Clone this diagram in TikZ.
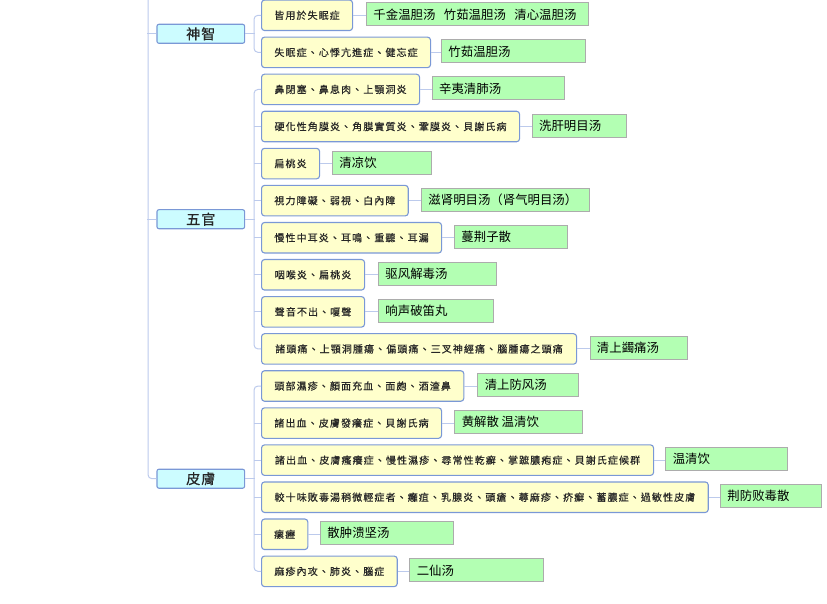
\documentclass[tikz,border=0pt]{standalone}
\usepackage{fontspec}
\newfontfamily\tcfont{Noto Sans CJK TC}[LetterSpace=11,FakeBold=0.4]
\newfontfamily\catfam{Noto Sans CJK TC}[LetterSpace=6,FakeBold=0.3]
\newfontfamily\scfont{Noto Sans CJK SC}
\definecolor{ylw}{RGB}{255,255,204}
\definecolor{cyn}{RGB}{204,252,255}
\definecolor{bdr}{RGB}{122,152,214}
\definecolor{grn}{RGB}{179,255,179}
\definecolor{gbdr}{RGB}{172,172,172}
\definecolor{lnc}{RGB}{188,202,236}
\tikzset{
  sym/.style={draw=bdr, fill=ylw, rounded corners=3pt, line width=1.1pt,
    minimum height=30.5pt, inner sep=0pt, anchor=west,
    font=\tcfont\fontsize{10}{12}\selectfont, text=black!85},
  rx/.style={draw=gbdr, fill=grn, line width=0.9pt, minimum height=23pt,
    inner sep=0pt, anchor=west, font=\scfont\fontsize{12.4}{14}\selectfont},
  cat/.style={draw=bdr, fill=cyn, rounded corners=2pt, line width=1.1pt,
    minimum width=87.7pt, minimum height=19pt, inner sep=0pt,
    font=\catfam\fontsize{14.2}{16}\selectfont, text=black!85},
  conn/.style={draw=lnc, line width=1pt},
  tree/.style={draw=lnc, line width=1pt, rounded corners=4pt}
}
\newcommand{\Ysym}[4]{\node[sym, minimum width=#3pt] (#1) at (261,{15.3+37.07*#2}) {#4};}
\newcommand{\Grx}[5]{\node[rx] (#1) at (#3,{14.3+37.07*#2}) {\makebox[#4pt][l]{\hspace{7pt}#5}};}
\begin{document}
\begin{tikzpicture}[x=1pt,y=-1pt]
\useasboundingbox (0,0) rectangle (827,604);
% categories
\node[cat] (shen) at (200.8,33.8) {神智};
\node[cat] (wu) at (200.8,219.2) {五官};
\node[cat] (pi) at (200.8,478.7) {皮膚};
% symptoms
\Ysym{s0}{0}{91}{皆用於失眠症}
\Ysym{s1}{1}{169}{失眠症、心悸亢進症、健忘症}
\Ysym{s2}{2}{158}{鼻閉塞、鼻息肉、上顎洞炎}
\Ysym{s3}{3}{258}{硬化性角膜炎、角膜實質炎、鞏膜炎、貝謝氏病}
\Ysym{s4}{4}{58}{扁桃炎}
\Ysym{s5}{5}{146.7}{視力障礙、弱視、白內障}
\Ysym{s6}{6}{180}{慢性中耳炎、耳鳴、重聽、耳漏}
\Ysym{s7}{7}{103}{咽喉炎、扁桃炎}
\Ysym{s8}{8}{103}{聲音不出、嗄聲}
\Ysym{s9}{9}{315}{諸頭痛、上顎洞腫瘍、偏頭痛、三叉神經痛、腦腫瘍之頭痛}
\Ysym{s10}{10}{202.3}{頭部濕疹、顏面充血、面皰、酒渣鼻}
\Ysym{s11}{11}{180}{諸出血、皮膚發癢症、貝謝氏病}
\Ysym{s12}{12}{392}{諸出血、皮膚瘙癢症、慢性濕疹、尋常性乾癬、掌蹠膿疱症、貝謝氏症候群}
\Ysym{s13}{13}{446.7}{較十味敗毒湯稍微輕症者、癰疽、乳腺炎、頭瘡、蕁麻疹、疥癬、蓄膿症、過敏性皮膚}
\Ysym{s14}{14}{46.3}{瘰癧}
\Ysym{s15}{15}{135.7}{麻疹內攻、肺炎、腦症}
% remedies
\Grx{g0}{0}{366}{222}{千金温胆汤\hspace{8.5pt}竹茹温胆汤\hspace{8.5pt}清心温胆汤}
\Grx{g1}{1}{441}{144}{竹茹温胆汤}
\Grx{g2}{2}{431.7}{132.3}{辛夷清肺汤}
\Grx{g3}{3}{531.7}{94}{洗肝明目汤}
\Grx{g4}{4}{332}{98.7}{清凉饮}
\Grx{g5}{5}{421}{168}{滋肾明目汤（肾气明目汤）}
\Grx{g6}{6}{454}{112.7}{蔓荆子散}
\Grx{g7}{7}{378}{118}{驱风解毒汤}
\Grx{g8}{8}{378}{115}{响声破笛丸}
\Grx{g9}{9}{589.5}{97.5}{清上蠲痛汤}
\Grx{g10}{10}{477.3}{101}{清上防风汤}
\Grx{g11}{11}{454.3}{128}{黄解散 温清饮}
\Grx{g12}{12}{665.3}{121.4}{温清饮}
\Grx{g13}{13}{720}{101}{荆防败毒散}
\Grx{g14}{14}{320}{133.3}{散肿溃坚汤}
\Grx{g15}{15}{409.3}{133.4}{二仙汤}
% main trunk
\coordinate (top) at (148,-3);
\draw[tree] (top) |- (pi.west);
\draw[conn] (shen.west) -- ++(-9,0);
\draw[conn] (wu.west) -- ++(-9,0);
% branches
\draw[conn] (shen.east) -- ++(9.3,0);
\draw[conn] (wu.east) -- ++(9.3,0);
\draw[conn] (pi.east) -- ++(9.3,0);
\draw[tree] (s0.west) -- ++(-7,0) |- (s1.west);
\draw[tree] (s2.west) -- ++(-7,0) |- (s9.west);
\foreach \k in {3,...,8} {\draw[conn] (s\k.west) -- ++(-7,0);}
\draw[tree] (s10.west) -- ++(-7,0) |- (s15.west);
\foreach \k in {11,...,14} {\draw[conn] (s\k.west) -- ++(-7,0);}
% symptom to remedy
\foreach \k in {0,...,15} {\draw[conn] (s\k.east) -- (s\k.east -| g\k.west);}
\end{tikzpicture}
\end{document}
